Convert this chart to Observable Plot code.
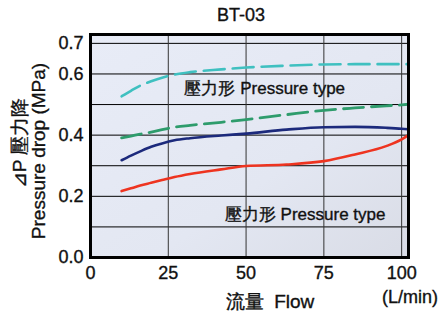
<!DOCTYPE html>
<html>
<head>
<meta charset="utf-8">
<script src="https://cdn.jsdelivr.net/npm/d3@7"></script>
<script src="https://cdn.jsdelivr.net/npm/@observablehq/plot@0.6"></script>
<style>
  html, body { margin: 0; padding: 0; background: #ffffff; }
  #chart { width: 440px; height: 313px; }
  #chart svg text { stroke: #111; stroke-width: 0.35px; }
</style>
</head>
<body>
<div id="chart"></div>
<script>
// ---- data ----
const title = "BT-03";
const flow  = [10, 13, 16, 19.5, 23, 27, 32, 42, 50, 63, 75, 85, 95, 100, 102.2];
const cyan  = [0.527, 0.545, 0.562, 0.576, 0.588, 0.598, 0.606, 0.615, 0.621, 0.627, 0.631, 0.632, 0.632, 0.632, 0.632];
const green = [0.391, 0.397, 0.403, 0.410, 0.418, 0.426, 0.432, 0.442, 0.451, 0.467, 0.481, 0.489, 0.496, 0.499, 0.501];
const navy  = [0.318, 0.333, 0.347, 0.362, 0.373, 0.383, 0.390, 0.399, 0.405, 0.418, 0.426, 0.427, 0.424, 0.421, 0.419];
const red   = [0.217, 0.226, 0.235, 0.244, 0.253, 0.263, 0.273, 0.288, 0.299, 0.304, 0.315, 0.337, 0.364, 0.386, 0.400];
const xTicks = [0, 25, 50, 75, 100];
const yTicks = [0, 0.2, 0.4, 0.6, 0.7];
const yGrid  = [0.1, 0.2, 0.3, 0.4, 0.5, 0.6, 0.7];
const annotations = [
  {x: 56, y: 0.552, text: "壓力形 Pressure type"},
  {x: 69, y: 0.142, text: "壓力形 Pressure type"}
];
const yLabel1 = "⊿P 壓力降";
const yLabel2 = "Pressure drop (MPa)";
const xLabel = "流量  Flow";
const xUnit = "(L/min)";

const series = [
  {name: "cyan", values: cyan, color: "#3fc0c0", dash: "21,8", width: 2.6},
  {name: "green", values: green, color: "#2e9c6c", dash: "20,8", width: 2.8},
  {name: "navy", values: navy, color: "#1c2a7c", dash: null, width: 2.6},
  {name: "red", values: red, color: "#ee3420", dash: null, width: 2.6}
];

const font = "Liberation Sans, Arial, Helvetica, sans-serif";

const lineMarks = series.map(s => Plot.line(
  flow.map((f, i) => ({x: f, y: s.values[i]})),
  {x: "x", y: "y", stroke: s.color, strokeWidth: s.width, strokeDasharray: s.dash, curve: "monotone-x"}
));

const chart = Plot.plot({
  width: 440,
  height: 313,
  marginLeft: 90,
  marginRight: 32,
  marginTop: 34,
  marginBottom: 56,
  style: {fontFamily: font, fontSize: "18px", color: "#111", background: "transparent", overflow: "visible"},
  x: {domain: [0, 102.2], ticks: xTicks, tickSize: 0, tickPadding: 9, label: null},
  y: {domain: [0, 0.729], ticks: yTicks, tickSize: 0, tickPadding: 7, label: null, tickFormat: d3.format(".1f")},
  marks: [
    Plot.frame({fill: "url(#bggrad)", stroke: null}),
    Plot.ruleY(yGrid, {stroke: "#000", strokeWidth: 1}),
    Plot.ruleX(xTicks.filter(d => d > 0), {stroke: "#333", strokeWidth: 1}),
    ...lineMarks,
    Plot.text(annotations, {x: "x", y: "y", text: "text", fontSize: 17, fill: "#111", fontFamily: font}),
    Plot.frame({stroke: "#000", strokeWidth: 3})
  ]
});

// gradient definition for plot background
const svg = d3.select(chart);
const defs = svg.insert("defs", ":first-child");
const g = defs.append("linearGradient").attr("id", "bggrad")
  .attr("x1", "0").attr("y1", "0").attr("x2", "1").attr("y2", "1");
g.append("stop").attr("offset", "0%").attr("stop-color", "#e8ecf7");
g.append("stop").attr("offset", "60%").attr("stop-color", "#e3e7f2");
g.append("stop").attr("offset", "100%").attr("stop-color", "#d9dce6");

// titles / axis labels as real text
function addText(x, y, size, str, rotate) {
  const t = svg.append("text")
    .attr("text-anchor", "middle").attr("dominant-baseline", "central")
    .attr("font-family", font).attr("font-size", size).attr("fill", "#111")
    .style("white-space", "pre").text(str);
  t.attr("transform", rotate ? `translate(${x},${y}) rotate(-90)` : `translate(${x},${y})`);
  return t;
}
addText(241, 15, 18, title);
addText(19, 143, 19, yLabel1, true);
addText(38, 151, 19, yLabel2, true);
addText(270, 301, 19, xLabel);
addText(410, 297, 18, xUnit);

document.getElementById("chart").appendChild(chart);
</script>
</body>
</html>
